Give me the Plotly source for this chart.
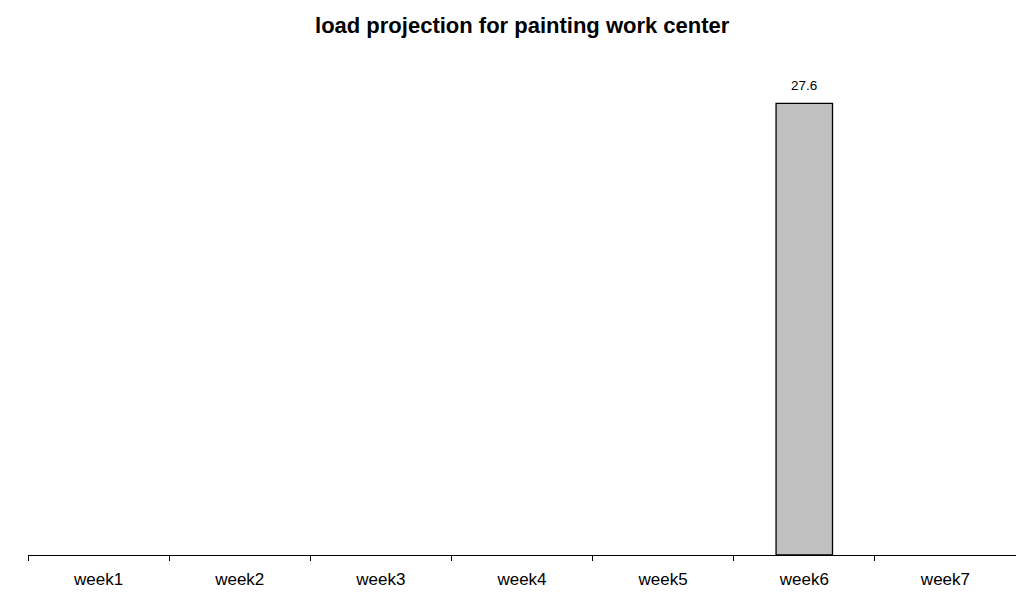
import plotly.graph_objects as go

# Weekly load projection for the painting work center
weeks = ["week1", "week2", "week3", "week4", "week5", "week6", "week7"]
load = [0, 0, 0, 0, 0, 27.6, 0]
y_max = 30

FONT = "Liberation Sans, Arial, Helvetica, sans-serif"

# Outline only the bars that actually carry load
outline_widths = [1.3 if v > 0 else 0 for v in load]

fig = go.Figure(
    go.Bar(
        x=weeks,
        y=load,
        width=0.4,
        marker=dict(color="#C0C0C0", line=dict(color="#000000", width=outline_widths)),
        hoverinfo="x+y",
    )
)

# Value labels above non-zero bars
for w, v in zip(weeks, load):
    if v > 0:
        fig.add_annotation(
            x=w, y=v, xref="x", yref="y",
            text=f"{v:g}", showarrow=False,
            yanchor="bottom", yshift=8,
            font=dict(family=FONT, size=13.5, color="#000000"),
        )

fig.update_layout(
    width=1016,
    height=592,
    margin=dict(l=28, r=0, t=64, b=37),
    paper_bgcolor="#FFFFFF",
    plot_bgcolor="#FFFFFF",
    showlegend=False,
    title=dict(
        text="<b>load projection for painting work center</b>",
        x=0.514, xanchor="center",
        y=1 - 25 / 592, yanchor="middle", yref="container",
        font=dict(family=FONT, size=22, color="#000000"),
    ),
    bargap=0.6,
    xaxis=dict(
        type="category",
        showline=True, linecolor="#000000", linewidth=1.2,
        ticks="outside", tickson="boundaries", ticklen=5,
        tickcolor="#000000", tickwidth=1,
        ticklabelstandoff=8,
        showgrid=False, zeroline=False,
        tickfont=dict(family=FONT, size=17, color="#000000"),
    ),
    yaxis=dict(
        range=[0, y_max],
        visible=False, showgrid=False, zeroline=False,
    ),
)

fig.write_html("out.html")
